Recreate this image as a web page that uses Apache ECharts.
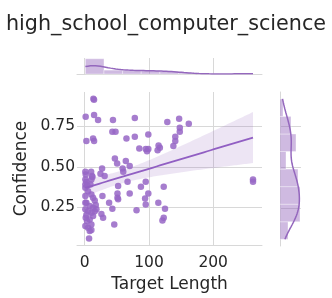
<!DOCTYPE html>
<html><head><meta charset="utf-8">
<script src="https://cdn.jsdelivr.net/npm/echarts@6/dist/echarts.min.js"></script>
<style>html,body{margin:0;padding:0;background:#fff}#c{width:332px;height:298px}</style>
</head><body><div id="c"></div>
<script>
// ---- data ----
const targetLength = [
  13.5,14.5,1.5,14.6,2.6,13,14.6,10,12,1,1.6,1,2.6,1,1,4.2,10.4,11.5,5.2,10.4,1,13,15.6,2.6,1,7.8,13,17.2,1,5.2,10.4,2.6,15.6,18.2,1.6,7.8,1,5.2,10.4,7.8,10.4,6.8,3.6,13,8.9,
  20.8,44,78,128.6,147,162,148,148,43,48,65,78,99,141,141,138,115,117,85,95,99,97,113.5,
  47,50.5,64,59,60,70,27,24.5,31,66.7,52,87.5,95,123,51,51,52,70,27.6,99,94,95,114.6,38,43,80.7,125,123,121,26,28.6,46,262,262
];
const confidence = [
  0.918,0.912,0.807,0.818,0.658,0.674,0.658,0.47,0.437,0.469,0.453,0.422,0.406,0.391,0.371,0.385,0.422,0.443,0.35,0.33,0.32,0.309,0.293,0.279,0.279,0.258,0.248,0.264,0.238,0.227,0.217,0.203,0.227,0.238,0.186,0.176,0.135,0.125,0.145,0.105,0.111,0.059,0.166,0.197,0.391,
  0.787,0.787,0.80,0.775,0.795,0.764,0.74,0.715,0.715,0.715,0.674,0.684,0.699,0.684,0.658,0.627,0.631,0.617,0.613,0.61,0.61,0.596,0.602,
  0.551,0.52,0.535,0.49,0.47,0.504,0.49,0.457,0.443,0.408,0.381,0.377,0.408,0.377,0.336,0.309,0.30,0.336,0.32,0.336,0.305,0.268,0.279,0.279,0.242,0.232,0.242,0.186,0.17,0.21,0.186,0.145,0.422,0.408
];
const xTicks = [0, 100, 200];
const yTicks = [0.25, 0.50, 0.75];
const xBinCount = 9;
const yBinCount = 8;

// ---- derived statistics ----
const n = targetLength.length;
function hist(vals, nb) {
  const mn = Math.min(...vals), mx = Math.max(...vals), w = (mx - mn) / nb;
  const c = new Array(nb).fill(0);
  vals.forEach(v => { let i = Math.floor((v - mn) / w); if (i >= nb) i = nb - 1; c[i]++; });
  return { bins: c.map((k, i) => [mn + i * w, mn + (i + 1) * w, k]), w: w, max: Math.max(...c) };
}
function kde(vals, binW) {
  const m = vals.reduce((a, b) => a + b, 0) / vals.length;
  const sd = Math.sqrt(vals.reduce((a, b) => a + (b - m) * (b - m), 0) / (vals.length - 1));
  const bw = sd * Math.pow(vals.length, -0.2);
  const mn = Math.min(...vals), mx = Math.max(...vals);
  const out = [];
  for (let i = 0; i < 200; i++) {
    const x = mn + (mx - mn) * i / 199;
    let d = 0;
    vals.forEach(v => { const z = (x - v) / bw; d += Math.exp(-0.5 * z * z); });
    d = d / (vals.length * bw * Math.sqrt(2 * Math.PI));
    out.push([x, d * vals.length * binW]);
  }
  return out;
}
const hx = hist(targetLength, xBinCount);
const hy = hist(confidence, yBinCount);
const kx = kde(targetLength, hx.w);
const ky = kde(confidence, hy.w).map(p => [p[1], p[0]]);

const mx = targetLength.reduce((a, b) => a + b, 0) / n;
const my = confidence.reduce((a, b) => a + b, 0) / n;
let sxx = 0, sxy = 0;
for (let i = 0; i < n; i++) { sxx += (targetLength[i] - mx) ** 2; sxy += (targetLength[i] - mx) * (confidence[i] - my); }
const slope = sxy / sxx, icpt = my - slope * mx;
let sse = 0;
for (let i = 0; i < n; i++) sse += (confidence[i] - icpt - slope * targetLength[i]) ** 2;
const s = Math.sqrt(sse / (n - 2));
const xmin = Math.min(...targetLength), xmax = Math.max(...targetLength);
const fit = [], upper = [], lower = [];
for (let i = 0; i < 100; i++) {
  const x = xmin + (xmax - xmin) * i / 99;
  const yh = icpt + slope * x;
  const se = s * Math.sqrt(1 / n + (x - mx) ** 2 / sxx);
  fit.push([x, yh]); upper.push([x, yh + 1.984 * se]); lower.push([x, yh - 1.984 * se]);
}

const purple = '#9467bd';
const gridColor = '#d8d8d8';
const txt = '#262626';
const font = 'DejaVu Sans';
const X_MIN = -12, X_MAX = 276, Y_MIN = 0.018, Y_MAX = 0.96;

const chart = echarts.init(document.getElementById('c'), null, { renderer: 'canvas' });
chart.setOption({
  animation: false,
  backgroundColor: '#fff',
  textStyle: { fontFamily: font, color: txt },
  title: { text: 'high_school_computer_science', left: 'center', top: 9,
    textStyle: { fontFamily: font, fontSize: 20.7, fontWeight: 'normal', color: txt } },
  grid: [
    { left: 77, top: 92, width: 185, height: 154 },
    { left: 77, top: 58, width: 185, height: 16 },
    { left: 280, top: 92, width: 21, height: 154 }
  ],
  xAxis: [
    { gridIndex: 0, type: 'value', min: X_MIN, max: X_MAX,
      name: 'Target Length', nameLocation: 'middle', nameGap: 27,
      nameTextStyle: { fontFamily: font, fontSize: 17, color: txt },
      axisLine: { show: true, lineStyle: { color: gridColor, width: 1 } },
      axisTick: { show: false, customValues: xTicks },
      axisLabel: { customValues: xTicks, margin: 10, fontFamily: font, fontSize: 15.5, color: txt },
      splitLine: { show: true, lineStyle: { color: gridColor, width: 1 } } },
    { gridIndex: 1, type: 'value', min: X_MIN, max: X_MAX,
      axisLine: { show: true, lineStyle: { color: gridColor, width: 1 } },
      axisTick: { show: false, customValues: xTicks },
      axisLabel: { show: false, customValues: xTicks },
      splitLine: { show: true, lineStyle: { color: gridColor, width: 1 } } },
    { gridIndex: 2, type: 'value', min: 0, max: hy.max * 1.05, show: true,
      axisLine: { show: false }, axisTick: { show: false }, axisLabel: { show: false }, splitLine: { show: false } }
  ],
  yAxis: [
    { gridIndex: 0, type: 'value', min: Y_MIN, max: Y_MAX,
      name: 'Confidence', nameLocation: 'middle', nameGap: 30,
      nameTextStyle: { fontFamily: font, fontSize: 17, color: txt },
      axisLine: { show: false },
      axisTick: { show: false, customValues: yTicks },
      axisLabel: { customValues: yTicks, margin: 2, fontFamily: font, fontSize: 15.5, color: txt,
        formatter: v => v.toFixed(2) },
      splitLine: { show: true, lineStyle: { color: gridColor, width: 1 } } },
    { gridIndex: 1, type: 'value', min: 0, max: hx.max * 1.05,
      axisLine: { show: false }, axisTick: { show: false }, axisLabel: { show: false }, splitLine: { show: false } },
    { gridIndex: 2, type: 'value', min: Y_MIN, max: Y_MAX,
      axisLine: { show: true, lineStyle: { color: gridColor, width: 1 } },
      axisTick: { show: false, customValues: yTicks },
      axisLabel: { show: false, customValues: yTicks },
      splitLine: { show: true, lineStyle: { color: gridColor, width: 1 } } }
  ],
  series: [
    { type: 'custom', xAxisIndex: 0, yAxisIndex: 0, silent: true, z: 1,
      data: [[0, 0]],
      renderItem: (params, api) => {
        const pts = upper.map(p => api.coord(p)).concat(lower.slice().reverse().map(p => api.coord(p)));
        return { type: 'polygon', shape: { points: pts }, style: { fill: 'rgba(148,103,189,0.17)' } };
      } },
    { type: 'scatter', xAxisIndex: 0, yAxisIndex: 0, z: 3,
      data: targetLength.map((x, i) => [x, confidence[i]]),
      symbolSize: 6.5, itemStyle: { color: '#9666c6', opacity: 0.85 } },
    { type: 'line', xAxisIndex: 0, yAxisIndex: 0, z: 4, data: fit, showSymbol: false,
      lineStyle: { color: '#915fc3', width: 1.8 } },
    { type: 'custom', xAxisIndex: 1, yAxisIndex: 1, silent: true,
      data: hx.bins,
      renderItem: (params, api) => {
        const p0 = api.coord([api.value(0), 0]);
        const p1 = api.coord([api.value(1), api.value(2)]);
        return { type: 'rect', shape: { x: p0[0], y: p1[1], width: p1[0] - p0[0], height: p0[1] - p1[1] },
          style: { fill: 'rgba(148,103,189,0.45)', stroke: 'rgba(255,255,255,0.6)', lineWidth: 0.6 } };
      } },
    { type: 'line', xAxisIndex: 1, yAxisIndex: 1, data: kx, showSymbol: false,
      lineStyle: { color: purple, width: 1.5 } },
    { type: 'custom', xAxisIndex: 2, yAxisIndex: 2, silent: true,
      data: hy.bins.map(b => [b[2], b[0], b[1]]),
      renderItem: (params, api) => {
        const p0 = api.coord([0, api.value(1)]);
        const p1 = api.coord([api.value(0), api.value(2)]);
        return { type: 'rect', shape: { x: p0[0], y: p1[1], width: p1[0] - p0[0], height: p0[1] - p1[1] },
          style: { fill: 'rgba(148,103,189,0.45)', stroke: 'rgba(255,255,255,0.6)', lineWidth: 0.6 } };
      } },
    { type: 'line', xAxisIndex: 2, yAxisIndex: 2, data: ky, showSymbol: false,
      lineStyle: { color: purple, width: 1.5 } }
  ]
});
</script></body></html>
